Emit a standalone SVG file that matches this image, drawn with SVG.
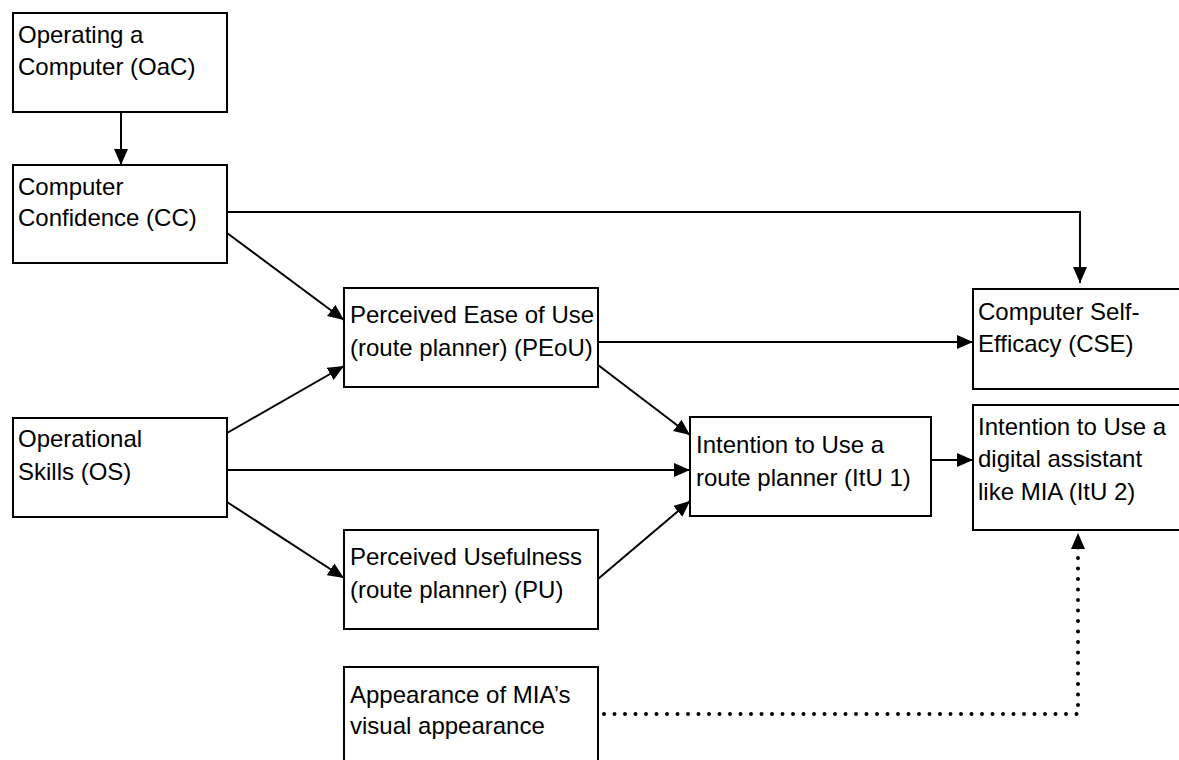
<svg xmlns="http://www.w3.org/2000/svg" width="1179" height="760" viewBox="0 0 1179 760">
<style>
.box{fill:#fff;stroke:#000;stroke-width:2}
.lbl{font-family:"Liberation Sans",Arial,sans-serif;font-size:24px;fill:#000}
.c{fill:none;stroke:#000;stroke-width:2}
.dot{fill:none;stroke:#000;stroke-width:4;stroke-dasharray:0 10.5;stroke-linecap:round}
</style>
<defs>
<marker id="ah" markerUnits="userSpaceOnUse" markerWidth="17" markerHeight="15" refX="16" refY="7" orient="auto">
<path d="M0,0 L16,7 L0,14 z" fill="#000"/>
</marker>
</defs>
<rect width="1179" height="760" fill="#fff"/>
<g id="connectors">
<path class="c" d="M121,112 V165" marker-end="url(#ah)"/>
<path class="c" d="M227,212 H1080 V283" marker-end="url(#ah)"/>
<path class="c" d="M227,233 L344,320" marker-end="url(#ah)"/>
<path class="c" d="M227,433 L344,366" marker-end="url(#ah)"/>
<path class="c" d="M598,342 H973" marker-end="url(#ah)"/>
<path class="c" d="M598,365 L690,435" marker-end="url(#ah)"/>
<path class="c" d="M227,470 H690" marker-end="url(#ah)"/>
<path class="c" d="M227,502 L344,578" marker-end="url(#ah)"/>
<path class="c" d="M598,579 L690,501" marker-end="url(#ah)"/>
<path class="c" d="M931,460 H973" marker-end="url(#ah)"/>
<path class="dot" d="M604,714 H1078 V547"/>
<path d="M1071,549 L1078,533 L1085,549 z" fill="#000"/>
</g>
<g id="oac"><rect class="box" x="13" y="13" width="214" height="99"/>
<text class="lbl" x="18" y="43">Operating a</text><text class="lbl" x="18" y="75">Computer (OaC)</text></g>
<g id="cc"><rect class="box" x="13" y="165" width="214" height="98"/>
<text class="lbl" x="18" y="195">Computer</text><text class="lbl" x="18" y="226">Confidence (CC)</text></g>
<g id="os"><rect class="box" x="13" y="418" width="214" height="99"/>
<text class="lbl" x="18" y="447">Operational</text><text class="lbl" x="18" y="480">Skills (OS)</text></g>
<g id="peou"><rect class="box" x="344" y="288" width="254" height="99"/>
<text class="lbl" x="350" y="323">Perceived Ease of Use</text><text class="lbl" x="350" y="356">(route planner) (PEoU)</text></g>
<g id="pu"><rect class="box" x="344" y="530" width="254" height="99"/>
<text class="lbl" x="350" y="565">Perceived Usefulness</text><text class="lbl" x="350" y="598">(route planner) (PU)</text></g>
<g id="mia"><rect class="box" x="344" y="667" width="254" height="110"/>
<text class="lbl" x="350" y="703">Appearance of MIA’s</text><text class="lbl" x="350" y="734">visual appearance</text></g>
<g id="itu1"><rect class="box" x="690" y="417" width="241" height="99"/>
<text class="lbl" x="696" y="453">Intention to Use a</text><text class="lbl" x="696" y="486">route planner (ItU 1)</text></g>
<g id="cse"><rect class="box" x="973" y="289" width="220" height="100"/>
<text class="lbl" x="978" y="320">Computer Self-</text><text class="lbl" x="978" y="352">Efficacy (CSE)</text></g>
<g id="itu2"><rect class="box" x="973" y="405" width="220" height="125"/>
<text class="lbl" x="978" y="435">Intention to Use a</text><text class="lbl" x="978" y="467">digital assistant</text><text class="lbl" x="978" y="500">like MIA (ItU 2)</text></g>
</svg>
